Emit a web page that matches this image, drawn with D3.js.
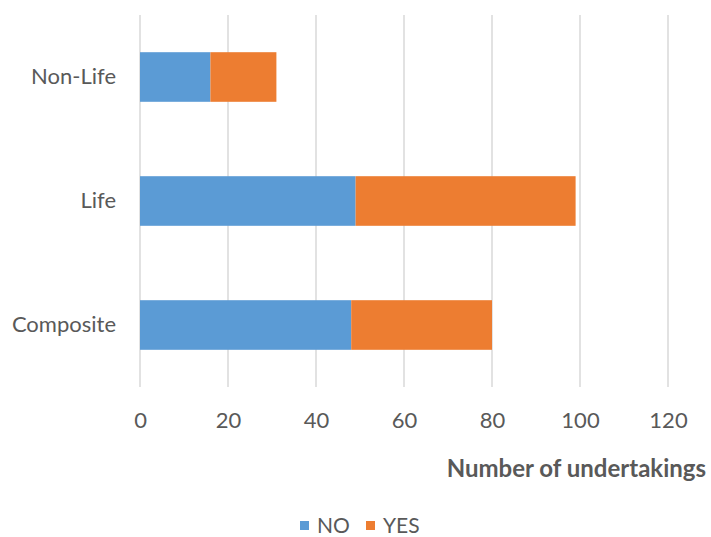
<!DOCTYPE html>
<html>
<head>
<meta charset="utf-8">
<script src="https://cdn.jsdelivr.net/npm/d3@7"></script>
<style>
    body { margin: 0; background: #fff; }
    text { font-family: Lato, "Open Sans", sans-serif; fill: #595959; }
</style>
</head>
<body>
<div id="chart"></div>
<script>
var categories = ["Non-Life", "Life", "Composite"];
var seriesNames = ["NO", "YES"];
var noValues = [16, 49, 48];
var yesValues = [15, 50, 32];
var xTicks = [0, 20, 40, 60, 80, 100, 120];

var colors = { "NO": "#5b9bd5", "YES": "#ed7d31" };

var W = 711, H = 537;
var margin = { top: 15, right: 43, bottom: 150, left: 140 };
var width = W - margin.left - margin.right,
    height = H - margin.top - margin.bottom;

var svg = d3.select("#chart")
    .append("svg")
    .attr("width", W)
    .attr("height", H)
    .append("g")
    .attr("transform", "translate(" + margin.left + "," + margin.top + ")");

var x = d3.scaleLinear().domain([0, 120]).range([0, width]);
var y = d3.scaleBand().domain(categories).range([0, height]).paddingInner(0.6).paddingOuter(0.3);

// gridlines
svg.append("g")
    .selectAll("line")
    .data(xTicks)
    .enter().append("line")
    .attr("x1", d => x(d)).attr("x2", d => x(d))
    .attr("y1", 0).attr("y2", height)
    .attr("stroke", "#d9d9d9")
    .attr("stroke-width", 1.5);

// stacked data
var rows = categories.map(function (c, i) {
    return { cat: c, NO: noValues[i], YES: yesValues[i] };
});
var stack = d3.stack().keys(seriesNames)(rows);

svg.append("g")
    .selectAll("g")
    .data(stack)
    .enter().append("g")
    .attr("fill", d => colors[d.key])
    .selectAll("rect")
    .data(d => d)
    .enter().append("rect")
    .attr("x", d => x(d[0]))
    .attr("y", d => y(d.data.cat))
    .attr("width", d => x(d[1]) - x(d[0]))
    .attr("height", y.bandwidth());

// x tick labels
svg.append("g")
    .attr("transform", "translate(0," + height + ")")
    .call(d3.axisBottom(x).tickValues(xTicks).tickSize(0).tickPadding(25))
    .call(g => g.select(".domain").remove())
    .selectAll("text")
    .style("font-size", "22px")
    .style("font-family", "Lato, 'Open Sans', sans-serif")
    .attr("fill", "#595959");

// y labels
svg.append("g")
    .call(d3.axisLeft(y).tickSize(0).tickPadding(24))
    .call(g => g.select(".domain").remove())
    .selectAll("text")
    .style("font-size", "22px")
    .style("font-family", "Lato, 'Open Sans', sans-serif")
    .attr("fill", "#595959");

// axis title
svg.append("text")
    .attr("x", W - margin.left - 5)
    .attr("y", height + 90)
    .attr("text-anchor", "end")
    .style("font-size", "24px")
    .style("font-weight", "bold")
    .text("Number of undertakings");

// legend
var legend = d3.select("svg").append("g");
var legendX = [300, 366];
seriesNames.forEach(function (s, i) {
    legend.append("rect")
        .attr("x", legendX[i]).attr("y", 521)
        .attr("width", 9).attr("height", 9)
        .attr("fill", colors[s]);
    legend.append("text")
        .attr("x", legendX[i] + 17).attr("y", 533)
        .style("font-size", "21px")
        .text(s);
});
</script>
</body>
</html>
